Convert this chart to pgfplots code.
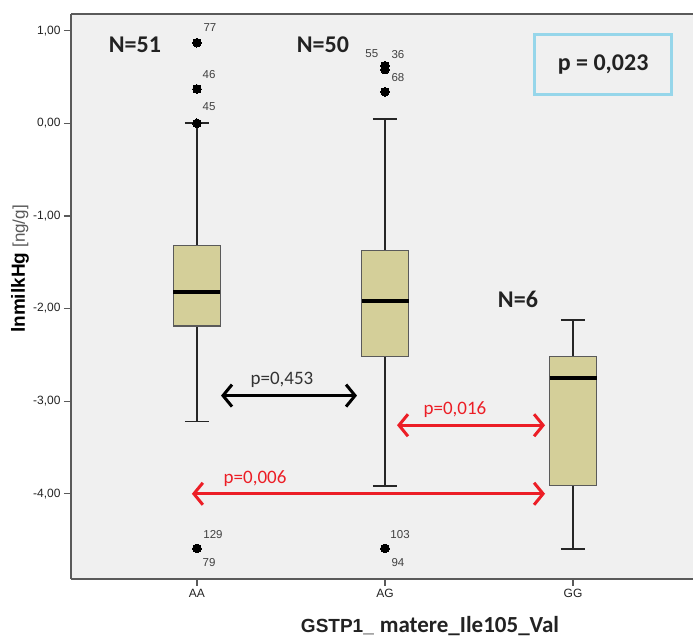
\documentclass[border=0pt]{standalone}
\usepackage{pgfplots}
\pgfplotsset{compat=1.18}
\usepgfplotslibrary{statistics}
\usetikzlibrary{arrows.meta}
\usepackage{fontspec}
\setmainfont{Liberation Sans}
\newfontfamily\calfont{Carlito}
\definecolor{boxfill}{RGB}{212,207,153}
\definecolor{bg}{RGB}{240,240,240}
\definecolor{pred}{RGB}{236,30,38}
\definecolor{pblue}{RGB}{150,214,234}
\definecolor{txt}{RGB}{34,34,34}
\definecolor{axc}{RGB}{90,90,90}
\begin{document}
\begin{tikzpicture}
\path[use as bounding box] (0,0) rectangle (693pt,639pt);
\begin{axis}[
  at={(71pt,60pt)}, anchor=south west,
  width=622pt, height=565pt, scale only axis,
  xmin=0.33, xmax=3.638, ymin=-4.92, ymax=1.18,
  clip=false,
  axis x line*=bottom, axis y line*=left,
  axis line style={line width=1.5pt, draw=axc},
  axis background/.style={fill=bg},
  xtick={1,2,3}, xticklabels={AA,AG,GG},
  ytick={-4,-3,-2,-1,0,1},
  tick align=outside, major tick length=7pt,
  tick style={line width=1.3pt, draw=axc},
  /pgf/number format/assume math mode=true,
  y tick label style={/pgf/number format/fixed, /pgf/number format/fixed zerofill, /pgf/number format/precision=2, /pgf/number format/use comma},
  tick label style={font=\fontsize{12}{12}\selectfont, text=txt},
  boxplot/draw direction=y,
  boxplot/every box/.style={fill=boxfill, draw=axc, line width=1.3pt},
  boxplot/every median/.style={line width=3.5pt, draw=black},
  boxplot/every whisker/.style={line width=1.8pt, draw=black!85},
]
\addplot[boxplot prepared={draw position=1, lower whisker=-3.22, lower quartile=-2.19, median=-1.82, upper quartile=-1.32, upper whisker=0.0, box extend=0.25, whisker extend=0.13, draw direction=y},
  mark=*, mark size=4.3pt, mark options={fill=black, draw=black, line width=0pt}, draw=black!85, line width=1.8pt]
  table[row sep=\\, y index=0] {data\\ 0.87\\ 0.37\\ 0.0\\ -4.59\\ -4.59\\};
\addplot[boxplot prepared={draw position=2, lower whisker=-3.92, lower quartile=-2.52, median=-1.92, upper quartile=-1.37, upper whisker=0.05, box extend=0.25, whisker extend=0.13, draw direction=y},
  mark=*, mark size=4.3pt, mark options={fill=black, draw=black, line width=0pt}, draw=black!85, line width=1.8pt]
  table[row sep=\\, y index=0] {data\\ 0.62\\ 0.58\\ 0.34\\ -4.59\\ -4.59\\};
\addplot[boxplot prepared={draw position=3, lower whisker=-4.60, lower quartile=-3.91, median=-2.75, upper quartile=-2.52, upper whisker=-2.12, box extend=0.25, whisker extend=0.13, draw direction=y},
  mark=*, mark size=4.3pt, mark options={fill=black, draw=black, line width=0pt}, draw=black!85, line width=1.8pt]
  coordinates {};
% top border
\draw[line width=1.5pt, axc] (rel axis cs:0,1) -- (rel axis cs:1,1);
% outlier labels
\begin{scope}[every node/.style={font=\fontsize{11.5}{11.5}\selectfont, text=black!75, inner sep=0pt}]
\node at (axis cs:1.069,1.03) {77};
\node at (axis cs:1.064,0.525) {46};
\node at (axis cs:1.064,0.18) {45};
\node at (axis cs:1.93,0.75) {55};
\node at (axis cs:2.069,0.74) {36};
\node at (axis cs:2.069,0.49) {68};
\node at (axis cs:1.085,-4.44) {129};
\node at (axis cs:1.064,-4.74) {79};
\node at (axis cs:2.08,-4.44) {103};
\node at (axis cs:2.069,-4.74) {94};
\end{scope}
% N labels
\begin{scope}[every node/.style={font=\calfont\bfseries\fontsize{24}{24}\selectfont, text=txt, inner sep=0pt}]
\node at (axis cs:0.670,0.849) {N=51};
\node at (axis cs:1.670,0.849) {N=50};
\node at (axis cs:2.707,-1.90) {N=6};
\end{scope}
% p box
\node[draw=pblue, line width=3pt, minimum width=137pt, minimum height=60pt, font=\calfont\bfseries\fontsize{24}{24}\selectfont, text=txt] at (axis cs:3.16,0.633) {p = 0,023};
% arrows
\draw[black, line width=3pt, {Straight Barb[length=9pt,width=22pt]}-{Straight Barb[length=9pt,width=22pt]}] (axis cs:1.128,-2.94) -- (axis cs:1.851,-2.94);
\draw[pred, line width=3pt, {Straight Barb[length=9pt,width=22pt]}-{Straight Barb[length=9pt,width=22pt]}] (axis cs:2.064,-3.26) -- (axis cs:2.851,-3.26);
\draw[pred, line width=3pt, {Straight Barb[length=9pt,width=22pt]}-{Straight Barb[length=9pt,width=22pt]}] (axis cs:0.973,-4.0) -- (axis cs:2.851,-4.0);
\node[font=\calfont\fontsize{19}{19}\selectfont, text=black!80, inner sep=0pt] at (axis cs:1.452,-2.765) {p=0,453};
\node[font=\calfont\fontsize{19}{19}\selectfont, text=pred, inner sep=0pt] at (axis cs:2.372,-3.09) {p=0,016};
\node[font=\calfont\fontsize{19}{19}\selectfont, text=pred, inner sep=0pt] at (axis cs:1.309,-3.84) {p=0,006};
\end{axis}
\node[rotate=90, inner sep=0pt] at (20pt,370pt) {{\bfseries\fontsize{19}{19}\selectfont lnmilkHg}\hspace{5pt}{\fontsize{17}{17}\selectfont\color{black!65}[ng/g]}};
\node[anchor=base, inner sep=0pt, text=txt] at (430pt,6pt) {{\bfseries\fontsize{19}{19}\selectfont GSTP1\_}\hspace{6pt}{\calfont\bfseries\fontsize{23}{23}\selectfont matere\_Ile105\_Val}};
\end{tikzpicture}
\end{document}
